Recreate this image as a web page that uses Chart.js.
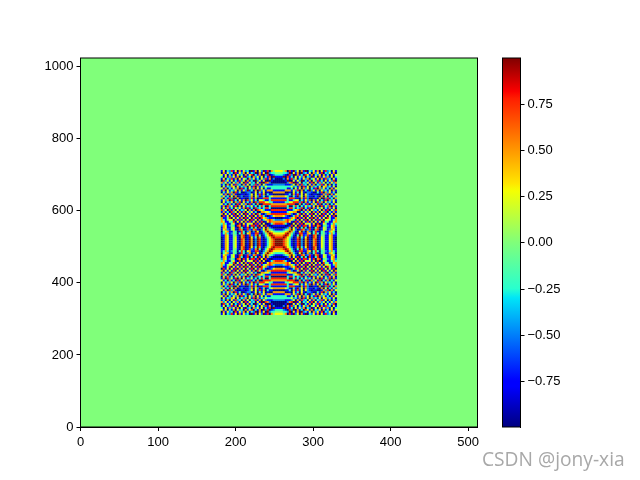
<!DOCTYPE html>
<html>
<head>
<meta charset="utf-8">
<script src="https://cdn.jsdelivr.net/npm/chart.js@4/dist/chart.umd.min.js"></script>
<style>
body { margin: 0; background: #fff; }
canvas { position: absolute; left: 0; top: 0; }
#mark { position: absolute; left: 482px; top: 445px; font: 19.2px "Open Sans", sans-serif; color: #a8a8a8; text-shadow: 0 0 2px #fff; white-space: nowrap; }
</style>
</head>
<body>
<canvas id="field" width="640" height="480"></canvas>
<canvas id="bar" width="640" height="480"></canvas>
<div id="mark">CSDN @jony-xia</div>
<script>
const xTicks = [0, 100, 200, 300, 400, 500];
const yTicks = [0, 200, 400, 600, 800, 1000];
const barTicks = [-0.75, -0.5, -0.25, 0, 0.25, 0.5, 0.75];
const barRange = [-0.996, 0.999];

// digit in a row = index into levels
const levels = [-1, -0.75, -0.5, -0.25, 0, 0.28, 0.5, 0.78, 1];

// upper left quarter of the patch, top row first, right end = centre
const quarter = [
  "15032715061523081605281706455",
  "06152307152605132806150823344",
  "51503160523061570316082701233",
  "30516251605182306251503170811",
  "15032716051530625130527160200",
  "07251503172506130825150081000",
  "62513052615071523051807620000",
  "13060517230615032716052111222",
  "05132650513260517061325333333",
  "51603152607130526051503113333",
  "16051325061528130607251666111",
  "03152607130012201503150100666",
  "51607261001101250517160311000",
  "25130506012011260528130135666",
  "6031728060110027160" + "1177731111",
  "1526071305160725130" + "5531137777",
  "0513250627051316072" + "7775533111",
  "5130613071526071306" + "0077776666",
  "1607251706051325130" + "3730037777",
  "0516130525160713072" + "3137730000",
  "7250716051325061607" + "6531117777",
  "1613072506160525130" + "0665531111",
  "60515170515071" + "516074102667777",
  "07150517061505" + "170516731012566",
  "61147051516071" + "506170756211100",
  "63145506171505" + "071506135676322",
  "65114370515061" + "715061701576666",
  "36311451070515" + "450716050013677",
  "26512430760715" + "177170507100111",
  "16511451073017" + "038307150621000",
  "15621451076017" + "216710258643211",
  "03561143017302" + "602850136865433",
  "13631243037305" + "611771024687555",
  "11651144106701" + "721683013578766",
  "01651145106701" + "851386102457877",
  "01651145107601" + "860287101356788",
  "01651145107601" + "860287101356788"
];

const jetStops = [0, 0.11, 0.125, 0.35, 0.375, 0.5, 0.64, 0.66, 0.89, 0.91, 1];
const jetColors = [
  [0, 0, 128], [0, 0, 255], [0, 0, 255], [0, 229, 247], [41, 255, 206], [128, 255, 122],
  [244, 255, 3], [255, 230, 0], [255, 30, 0], [250, 0, 0], [128, 0, 0]
];

function jet(v) {
  const t = Math.min(1, Math.max(0, (v + 1) / 2));
  let i = 0;
  while (i < jetStops.length - 2 && t > jetStops[i + 1]) i++;
  const f = (t - jetStops[i]) / (jetStops[i + 1] - jetStops[i]);
  const a = jetColors[i], b = jetColors[i + 1];
  return 'rgb(' + a.map((c, k) => Math.round(c + (b[k] - c) * f)).join(',') + ')';
}

// the cells, mirrored left/right and top/bottom from the quarter
const cells = [];
const nr = quarter.length, nc = quarter[0].length;
for (let r = 0; r < nr * 2; r++) {
  const row = quarter[r < nr ? r : 2 * nr - 1 - r];
  for (let c = 0; c < nc * 2; c++) {
    const d = row[c < nc ? c : 2 * nc - 1 - c];
    cells.push({ x: 181 + (c + 0.5) * 2.58, y: 713 - (r + 0.5) * 5.43, v: levels[+d] });
  }
}

const frame = {
  id: 'frame',
  beforeDraw(chart) {
    if (chart.canvas.id !== 'field') return;
    const a = chart.chartArea, ctx = chart.ctx;
    ctx.fillStyle = jet(0);
    ctx.fillRect(a.left, a.top, a.width, a.height);
  },
  afterDraw(chart) {
    const a = chart.chartArea, ctx = chart.ctx;
    ctx.strokeStyle = '#000';
    ctx.lineWidth = 1;
    ctx.strokeRect(a.left, a.top, a.width, a.height);
  }
};

Chart.defaults.font.family = '"Liberation Sans", sans-serif';
Chart.defaults.font.size = 13;
Chart.defaults.color = '#000';
Chart.defaults.animation = false;

function axisStyle() {
  return {
    grid: { drawOnChartArea: false, drawTicks: true, tickLength: 4, color: '#000' },
    border: { color: '#000' }
  };
}

new Chart(document.getElementById('field'), {
  type: 'scatter',
  data: {
    datasets: [{
      data: cells,
      pointStyle: 'rect',
      pointRadius: 1.5,
      pointBorderWidth: 0,
      pointBackgroundColor: c => jet(c.raw ? c.raw.v : 0)
    }]
  },
  options: {
    responsive: false,
    devicePixelRatio: 1,
    layout: { padding: { left: 0, top: 58, right: 162.5, bottom: 0 } },
    plugins: { legend: { display: false }, tooltip: { enabled: false } },
    scales: {
      x: {
        ...axisStyle(), min: 0, max: 512,
        ticks: { autoSkip: false, maxRotation: 0, padding: 4, callback: v => String(v) },
        afterBuildTicks: s => { s.ticks = xTicks.map(v => ({ value: v })); },
        afterFit: s => { s.height = 53; }
      },
      y: {
        ...axisStyle(), min: 0, max: 1024,
        ticks: { autoSkip: false, padding: 3, callback: v => String(v) },
        afterBuildTicks: s => { s.ticks = yTicks.map(v => ({ value: v })); },
        afterFit: s => { s.width = 80.5; }
      }
    }
  },
  plugins: [frame]
});

new Chart(document.getElementById('bar'), {
  type: 'bar',
  data: {
    labels: ['c'],
    datasets: [{
      data: [barRange],
      barPercentage: 1,
      categoryPercentage: 1,
      backgroundColor: c => {
        const a = c.chart.chartArea;
        if (!a) return '#000';
        const g = c.chart.ctx.createLinearGradient(0, a.bottom, 0, a.top);
        jetStops.forEach((t, i) => g.addColorStop(t, 'rgb(' + jetColors[i].join(',') + ')'));
        return g;
      }
    }]
  },
  options: {
    responsive: false,
    devicePixelRatio: 1,
    layout: { padding: { left: 502.5, top: 58, right: 0, bottom: 53 } },
    plugins: { legend: { display: false }, tooltip: { enabled: false } },
    scales: {
      x: { display: false },
      y: {
        ...axisStyle(), position: 'right', min: barRange[0], max: barRange[1],
        ticks: {
          autoSkip: false, padding: 3,
          callback: v => (v < 0 ? '\u2212' : '') + Math.abs(v).toFixed(2)
        },
        afterBuildTicks: s => { s.ticks = barTicks.map(v => ({ value: v })); },
        afterFit: s => { s.width = 119.5; }
      }
    }
  },
  plugins: [frame]
});
</script>
</body>
</html>
